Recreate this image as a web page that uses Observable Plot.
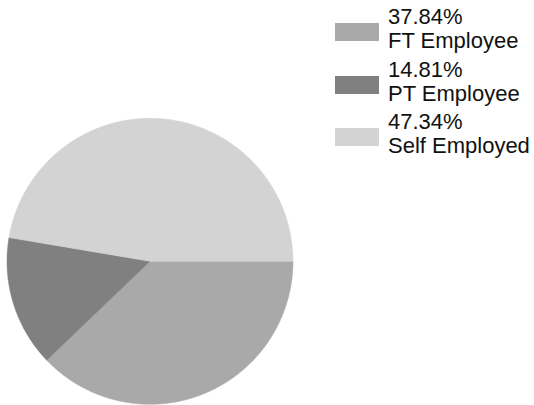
<!DOCTYPE html>
<html>
<head>
<meta charset="utf-8">
<script src="https://cdn.jsdelivr.net/npm/d3@7"></script>
<script src="https://cdn.jsdelivr.net/npm/@observablehq/plot@0.6"></script>
<style>
  html, body { margin: 0; padding: 0; background: #fff; }
  #wrap { position: relative; width: 534px; height: 405px; overflow: hidden; }
  #legend { position: absolute; left: 335px; top: 5px; font-family: "Liberation Sans", Arial, sans-serif; font-size: 22px; line-height: 24px; color: #111; }
  .item { position: relative; height: 48px; margin-bottom: 4.5px; padding-left: 53px; white-space: nowrap; }
  .sw { position: absolute; left: 0; top: 18px; width: 44px; height: 18px; }
</style>
</head>
<body>
<div id="wrap"><div id="legend"></div></div>
<script>
const categories = ["FT Employee", "PT Employee", "Self Employed"];
const percents = [37.84, 14.81, 47.34];
const percentLabels = ["37.84%", "14.81%", "47.34%"];
const colors = ["#a9a9a9", "#808080", "#d3d3d3"];

// Build slice outlines (unit circle) from cumulative shares; start at 3 o'clock, clockwise
const total = d3.sum(percents);
const pts = [];
let acc = 0;
categories.forEach((c, i) => {
  const a0 = acc / total * 2 * Math.PI;
  acc += percents[i];
  const a1 = acc / total * 2 * Math.PI;
  pts.push({key: c, x: 0, y: 0});
  const n = Math.max(2, Math.ceil((a1 - a0) / 0.01));
  for (let k = 0; k <= n; k++) {
    const a = a0 + (a1 - a0) * k / n;
    pts.push({key: c, x: Math.cos(a), y: -Math.sin(a)});
  }
  pts.push({key: c, x: 0, y: 0});
});

const cx = 149.5, cy = 260.8, r = 143;
const chart = Plot.plot({
  width: 534,
  height: 405,
  margin: 0,
  x: {domain: [-1, 1], range: [cx - r, cx + r], axis: null},
  y: {domain: [-1, 1], range: [cy + r, cy - r], axis: null},
  color: {domain: categories, range: colors},
  marks: [
    Plot.line(pts, {x: "x", y: "y", z: "key", fill: "key", stroke: "key", strokeWidth: 0.5, curve: "linear"})
  ]
});
chart.style.position = "absolute";
chart.style.left = "0";
chart.style.top = "0";
document.getElementById("wrap").prepend(chart);

const legend = document.getElementById("legend");
categories.forEach((c, i) => {
  const item = document.createElement("div");
  item.className = "item";
  const sw = document.createElement("div");
  sw.className = "sw";
  sw.style.background = colors[i];
  item.appendChild(sw);
  const t1 = document.createElement("div");
  t1.textContent = percentLabels[i];
  const t2 = document.createElement("div");
  t2.textContent = c;
  item.appendChild(t1);
  item.appendChild(t2);
  legend.appendChild(item);
});
</script>
</body>
</html>
